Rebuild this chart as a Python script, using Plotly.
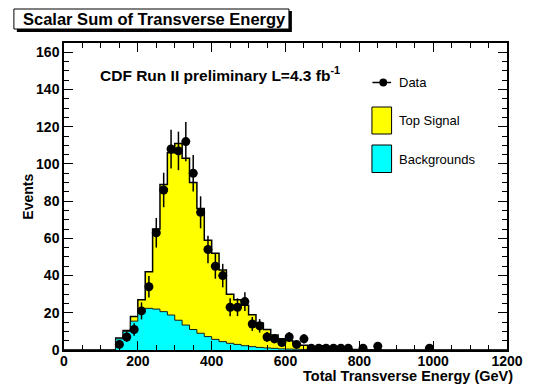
import numpy as np
import plotly.graph_objects as go

# ---------------- data ----------------
bin_width = 20
hist_start = 140          # first non-empty histogram bin (lower edge, GeV)
x_max = 1200

total_stack = [6.5, 10.5, 18, 27, 42, 65, 89, 106, 111, 103, 90, 76, 59, 52, 43,
               30, 27, 24, 19, 14.5, 11, 8, 6, 5, 3.5, 2.5, 1.8, 1.2, 0.9, 0.6,
               0.5, 0.35, 0.25, 0.2, 0.15, 0.1]
backgrounds = [6, 10, 15.5, 21.5, 22.4, 22, 20.6, 18.8, 16, 13.4, 11, 9, 7.2, 5.7,
               4.5, 3.6, 3, 2.3, 1.8, 1.4, 1.1, 0.9, 0.6, 0.5, 0.4, 0.3, 0.25, 0.2,
               0.15, 0.12, 0.1, 0.08, 0.06, 0.05, 0.04, 0.03]

data_centers = [150, 170, 190, 210, 230, 250, 270, 290, 310, 330, 350, 370, 390, 410,
                430, 450, 470, 490, 510, 530, 550, 570, 590, 610, 630, 650, 670, 690,
                710, 730, 750, 770, 810, 850, 990]
data_counts = [3, 7, 11, 21, 34, 63, 86, 108, 107, 112, 95, 74, 54, 45, 40, 23, 23, 26,
               14, 13, 7, 6, 4, 7, 3, 6, 1, 1, 1, 1, 1, 1, 1, 2, 1]

x_ticks = [0, 200, 400, 600, 800, 1000, 1200]
y_ticks = [0, 20, 40, 60, 80, 100, 120, 140, 160]

# ---------------- helpers ----------------
edges = np.arange(0, x_max + bin_width, bin_width)
nb = len(edges) - 1
first = hist_start // bin_width


def full(vals):
    arr = np.zeros(nb)
    arr[first:first + len(vals)] = vals
    return np.append(arr, arr[-1])


tot = full(total_stack)
bkg = full(backgrounds)

W, H = 535, 385
L, R, T, B = 64, 20, 43, 35
PW, PH = W - L - R, H - T - B


def px(x):
    return (x - L) / PW


def py(y):
    return (H - B - y) / PH


FONT = "Liberation Sans, Arial, Helvetica, sans-serif"

fig = go.Figure()

fig.add_trace(go.Scatter(x=edges, y=tot, mode="lines", line=dict(shape="hv", color="black", width=1.5),
                         fill="tozeroy", fillcolor="#ffff00", showlegend=False, hoverinfo="skip"))
fig.add_trace(go.Scatter(x=edges, y=bkg, mode="lines", line=dict(shape="hv", color="#1a1a1a", width=1),
                         fill="tozeroy", fillcolor="#00ffff", showlegend=False, hoverinfo="skip"))
fig.add_trace(go.Scatter(x=data_centers, y=data_counts, mode="markers",
                         marker=dict(color="black", size=9),
                         error_y=dict(type="data", array=np.sqrt(data_counts), color="black",
                                      thickness=1.5, width=0),
                         showlegend=False))

axis_common = dict(showgrid=False, zeroline=False, showline=True, linecolor="black", linewidth=1.5,
                   mirror="allticks", ticks="inside", ticklen=9, tickwidth=1, tickcolor="black",
                   tickfont=dict(family=FONT, size=14, color="black", weight="bold"))

fig.update_xaxes(range=[0, x_max], tickvals=x_ticks, ticktext=[str(v) for v in x_ticks],
                 minor=dict(ticks="inside", dtick=50, ticklen=5, tickcolor="black", tickwidth=1),
                 ticklabelstandoff=-3, **axis_common)
fig.update_yaxes(range=[0, 165], tickvals=y_ticks, ticktext=[str(v) for v in y_ticks],
                 minor=dict(ticks="inside", dtick=5, ticklen=5, tickcolor="black", tickwidth=1),
                 **axis_common)

shapes = []
ann = []

# title box with shadow
shapes.append(dict(type="rect", xref="paper", yref="paper", x0=px(16), x1=px(296), y0=py(32), y1=py(11),
                   fillcolor="black", line=dict(width=0), layer="above"))
shapes.append(dict(type="rect", xref="paper", yref="paper", x0=px(13), x1=px(293), y0=py(29), y1=py(9),
                   fillcolor="white", line=dict(color="black", width=1), layer="above"))
ann.append(dict(text="<b>Scalar Sum of Transverse Energy</b>", xref="paper", yref="paper",
                x=px(156), y=py(19.5), showarrow=False, xanchor="center", yanchor="middle",
                font=dict(family=FONT, size=16.5, color="black")))

# CDF label
ann.append(dict(text="<b>CDF Run II preliminary L=4.3 fb<sup>-1</sup></b>", xref="paper", yref="paper",
                x=px(99), y=py(74), showarrow=False, xanchor="left", yanchor="middle",
                font=dict(family=FONT, size=15.5, color="black")))

# legend
shapes.append(dict(type="line", xref="paper", yref="paper", x0=px(378), x1=px(397), y0=py(82.5), y1=py(82.5),
                   line=dict(color="black", width=1.5)))
shapes.append(dict(type="circle", xref="paper", yref="paper", x0=px(385), x1=px(393), y0=py(78.5), y1=py(86.5),
                   fillcolor="black", line=dict(color="black", width=0)))
ann.append(dict(text="Data", xref="paper", yref="paper", x=px(403), y=py(82.5), showarrow=False,
                xanchor="left", yanchor="middle", font=dict(family=FONT, size=13, color="black")))
shapes.append(dict(type="rect", xref="paper", yref="paper", x0=px(377.5), x1=px(397.5), y0=py(134), y1=py(107),
                   fillcolor="#ffff00", line=dict(color="black", width=1)))
ann.append(dict(text="Top Signal", xref="paper", yref="paper", x=px(403), y=py(120.5), showarrow=False,
                xanchor="left", yanchor="middle", font=dict(family=FONT, size=13, color="black")))
shapes.append(dict(type="rect", xref="paper", yref="paper", x0=px(377.5), x1=px(397.5), y0=py(172.5), y1=py(145),
                   fillcolor="#00ffff", line=dict(color="black", width=1)))
ann.append(dict(text="Backgrounds", xref="paper", yref="paper", x=px(403), y=py(159), showarrow=False,
                xanchor="left", yanchor="middle", font=dict(family=FONT, size=13, color="black")))

# axis titles
ann.append(dict(text="<b>Total Transverse Energy (GeV)</b>", xref="paper", yref="paper", x=px(305), y=py(376),
                showarrow=False, xanchor="left", yanchor="middle", font=dict(family=FONT, size=14.5, color="black")))
ann.append(dict(text="<b>Events</b>", xref="paper", yref="paper", x=px(27), y=py(197), textangle=-90,
                showarrow=False, xanchor="center", yanchor="middle", font=dict(family=FONT, size=14, color="black")))

fig.update_layout(width=W, height=H, margin=dict(l=L, r=R, t=T, b=B, pad=0),
                  paper_bgcolor="white", plot_bgcolor="white", shapes=shapes, annotations=ann,
                  showlegend=False)

fig.write_html("out.html")
